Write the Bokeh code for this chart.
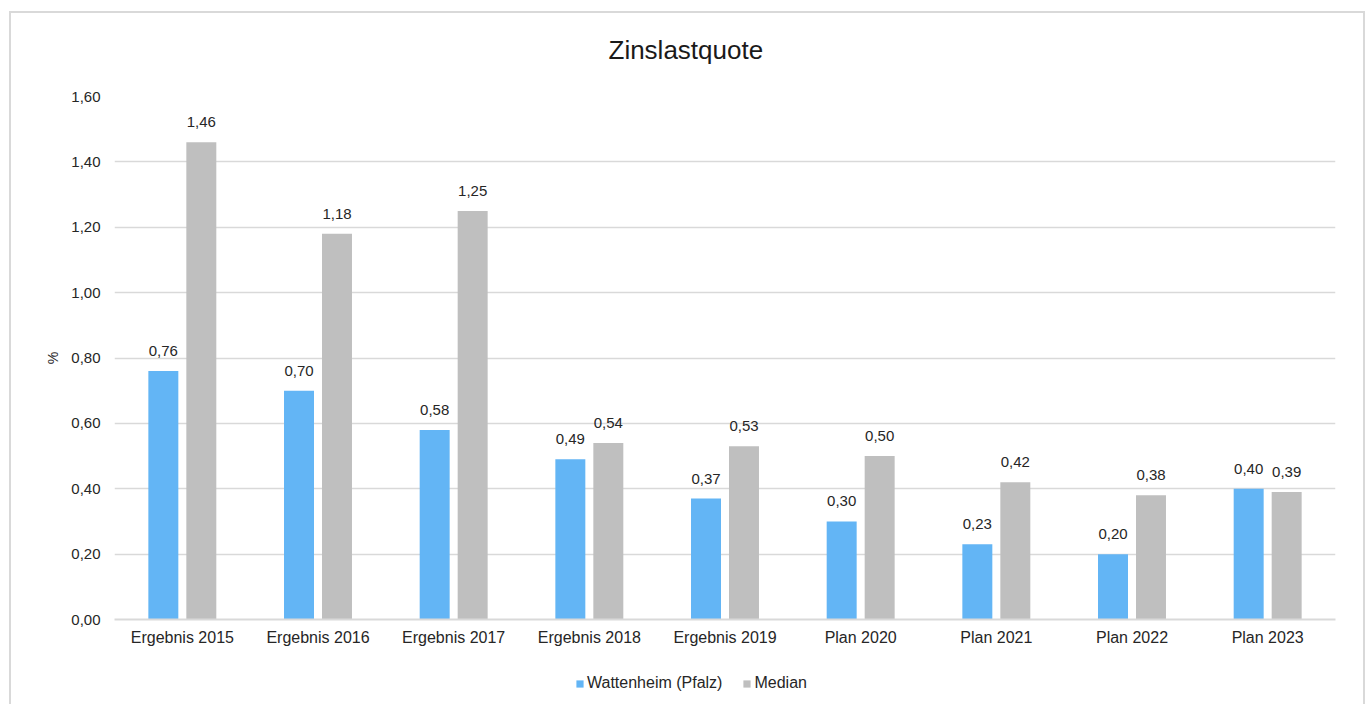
from bokeh.plotting import figure
from bokeh.layouts import column
from bokeh.models import (ColumnDataSource, FactorRange, Range1d, LabelSet, Legend, LegendItem,
                          CustomJSTickFormatter, FixedTicker, Title, InlineStyleSheet)
from bokeh.core.properties import value
from bokeh.transform import dodge
from bokeh.embed import file_html
from bokeh.resources import INLINE

categories = ["Ergebnis 2015", "Ergebnis 2016", "Ergebnis 2017", "Ergebnis 2018", "Ergebnis 2019",
              "Plan 2020", "Plan 2021", "Plan 2022", "Plan 2023"]
wattenheim = [0.76, 0.70, 0.58, 0.49, 0.37, 0.30, 0.23, 0.20, 0.40]
median = [1.46, 1.18, 1.25, 0.54, 0.53, 0.50, 0.42, 0.38, 0.39]
y_ticks = [0.0, 0.2, 0.4, 0.6, 0.8, 1.0, 1.2, 1.4, 1.6]
series_names = ["Wattenheim (Pfalz)", "Median"]

FONT = "Liberation Sans"
BLUE = "#63B5F5"
GRAY = "#BFBFBF"
GRID = "#D9D9D9"
TXT = "#262626"

def fmt(v):
    return f"{v:.2f}".replace(".", ",")

src = ColumnDataSource(dict(
    cat=categories,
    w=wattenheim,
    m=median,
    wl=[fmt(v) for v in wattenheim],
    ml=[fmt(v) for v in median],
))

css_top = InlineStyleSheet(css="""
:host { position: relative; }
:host::after {
  content: ""; position: absolute;
  left: 9px; top: 11px; right: 1px; bottom: 0px;
  border: 2px solid #D9D9D9; border-bottom: none;
  pointer-events: none; z-index: 100;
}
""")
css_bot = InlineStyleSheet(css="""
:host { position: relative; }
:host::after {
  content: ""; position: absolute;
  left: 9px; top: 0px; right: 1px; bottom: 0px;
  border-left: 2px solid #D9D9D9; border-right: 2px solid #D9D9D9;
  pointer-events: none; z-index: 100;
}
""")

p = figure(width=1366, height=659, x_range=FactorRange(factors=categories),
           y_range=Range1d(0, 1.6), output_backend="svg", toolbar_location=None,
           min_border_left=114, min_border_right=31, min_border_top=96, min_border_bottom=40,
           stylesheets=[css_top])
p.title = Title(text="Zinslastquote", align="left", offset=494, text_font=FONT,
                text_font_size="26px", text_font_style="normal", text_color="#1a1a1a",
                standoff=63)
p.outline_line_color = None
p.background_fill_color = "white"
p.border_fill_color = None

off = 0.14
bw = 0.221
r1 = p.vbar(x=dodge("cat", -off, range=p.x_range), top="w", width=bw, source=src,
            fill_color=BLUE, line_color=None)
r2 = p.vbar(x=dodge("cat", off, range=p.x_range), top="m", width=bw, source=src,
            fill_color=GRAY, line_color=None)

for col, lab, o in (("w", "wl", -off), ("m", "ml", off)):
    ls = LabelSet(x=dodge("cat", o, range=p.x_range), y=col, text=lab, source=src,
                  text_align="center", text_baseline="alphabetic", y_offset=15,
                  text_font=value(FONT), text_font_size=value("15px"), text_color=TXT)
    p.add_layout(ls)

# axes
p.yaxis.ticker = FixedTicker(ticks=y_ticks)
p.yaxis.formatter = CustomJSTickFormatter(code="return tick.toFixed(2).replace('.', ',');")
p.yaxis.axis_line_color = None
p.yaxis.major_tick_line_color = None
p.yaxis.minor_tick_line_color = None
p.yaxis.major_label_standoff = 8
p.yaxis.major_label_text_font = FONT
p.yaxis.major_label_text_font_size = "15px"
p.yaxis.major_label_text_color = TXT
p.yaxis.axis_label = "%"
p.yaxis.axis_label_text_font = FONT
p.yaxis.axis_label_text_font_size = "14px"
p.yaxis.axis_label_text_font_style = "normal"
p.yaxis.axis_label_text_color = TXT
p.yaxis.axis_label_standoff = 7

p.xaxis.axis_line_color = GRID
p.xaxis.axis_line_width = 2
p.xaxis.major_tick_line_color = None
p.xaxis.minor_tick_line_color = None
p.xaxis.major_label_standoff = 3
p.xaxis.major_label_text_font = FONT
p.xaxis.major_label_text_font_size = "16px"
p.xaxis.major_label_text_color = TXT

p.xgrid.grid_line_color = None
p.ygrid.grid_line_color = GRID
p.ygrid.grid_line_width = 1.5
p.ygrid.ticker = FixedTicker(ticks=y_ticks)

# legend strip
p2 = figure(width=1366, height=45, x_range=Range1d(0, 1), y_range=Range1d(0, 1),
            x_axis_type=None, y_axis_type=None, output_backend="svg", toolbar_location=None,
            min_border=0, stylesheets=[css_bot])
p2.outline_line_color = None
p2.border_fill_color = None
p2.background_fill_color = None
p2.xgrid.visible = False
p2.ygrid.visible = False
d1 = p2.vbar(x=[-10], top=[0], width=0.1, fill_color=BLUE, line_color=None)
d2 = p2.vbar(x=[-10], top=[0], width=0.1, fill_color=GRAY, line_color=None)
legend = Legend(items=[LegendItem(label=series_names[0], renderers=[d1]),
                       LegendItem(label=series_names[1], renderers=[d2])],
                location=(461, 12), orientation="horizontal",
                glyph_width=9, glyph_height=9, label_standoff=3, spacing=20,
                padding=0, margin=0, border_line_color=None, background_fill_alpha=0,
                label_text_font=FONT, label_text_font_size="16px", label_text_color=TXT)
p2.add_layout(legend, "center")

layout = column(p, p2, spacing=0)
open("out.html", "w").write(file_html(layout, INLINE))
